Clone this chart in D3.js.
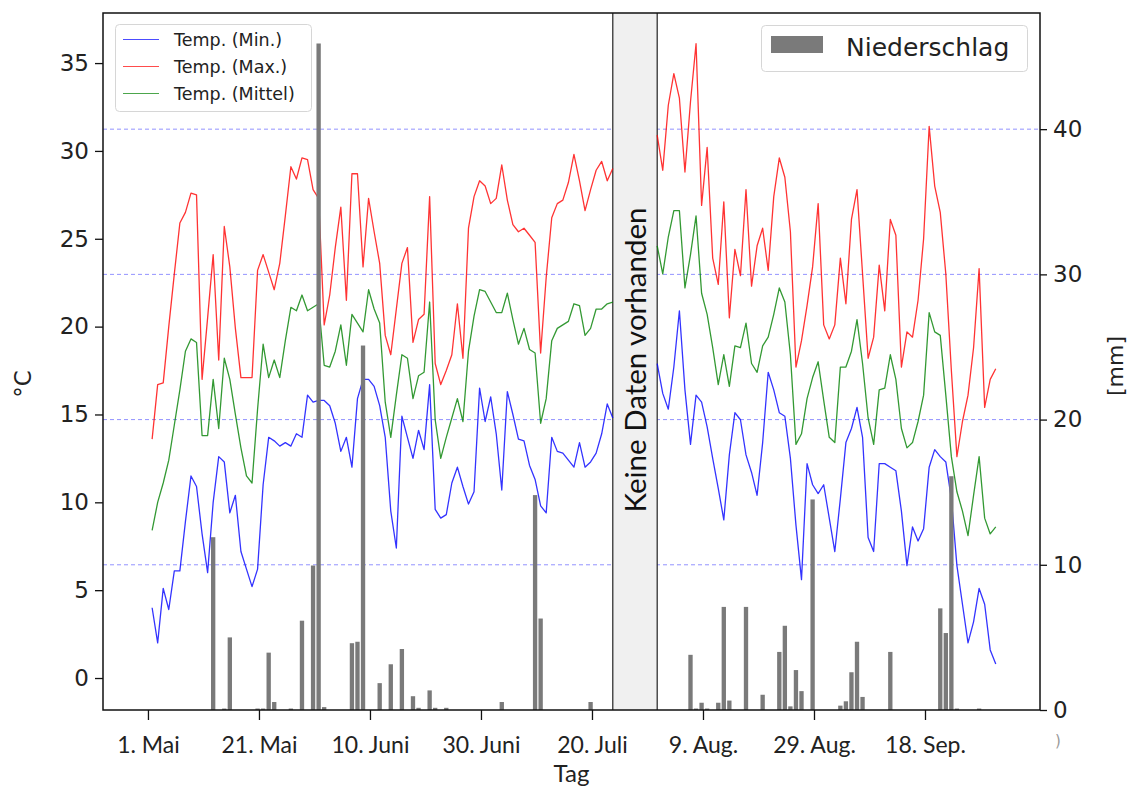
<!DOCTYPE html>
<html>
<head>
<meta charset="utf-8">
<script src="https://cdn.jsdelivr.net/npm/d3@7"></script>
<style>
body { margin: 0; background: #fff; }
svg { display: block; }
</style>
</head>
<body>
<svg id="chart" width="1131" height="789"></svg>
<script>
// Tageswerte ab 1. Mai (Index 0), 24.7.-30.7. ohne Daten (null)
var tMax = [13.6,16.7,16.8,20.0,23.0,25.9,26.5,27.6,27.5,17.0,
  20.5,24.1,18.1,25.7,23.4,19.9,17.1,17.1,17.1,23.2,
  24.1,23.1,22.1,23.6,26.3,29.1,28.4,29.6,29.5,27.8,
  27.3,20.1,21.8,24.5,26.8,21.5,28.7,28.7,23.4,27.3,
  25.4,23.6,19.5,18.4,21.0,23.6,24.5,19.1,20.4,20.7,
  27.4,17.9,16.7,17.5,18.4,21.3,18.2,25.6,27.4,28.3,
  28.0,27.0,27.3,29.2,27.2,25.8,25.4,25.6,25.2,24.8,
  18.5,22.8,26.2,27.0,27.2,28.2,29.8,28.3,26.6,27.8,
  28.9,29.4,28.3,29.0,
  null,null,null,null,null,null,null,
  30.9,28.9,32.6,34.4,33.0,28.8,32.8,36.1,26.9,30.2,
  23.9,22.4,27.1,20.5,24.4,22.9,27.8,22.3,24.6,25.6,
  23.2,27.4,29.6,28.5,25.4,17.7,19.2,21.2,23.4,27.0,
  20.1,19.3,20.1,23.9,21.3,26.1,27.8,23.0,18.2,19.4,
  23.5,20.9,26.1,25.2,17.7,19.7,19.4,21.5,25.0,31.4,
  28.0,26.5,23.0,17.5,12.6,14.6,16.1,18.8,23.3,15.4,
  17.0,17.6];

var tMittel = [8.4,10.0,11.1,12.4,14.4,16.4,18.6,19.3,19.1,13.8,
  13.8,17.0,14.2,18.2,17.0,15.0,13.1,11.5,11.1,15.3,
  19.0,17.1,18.1,17.1,19.2,21.1,20.9,21.8,20.9,21.1,
  21.3,17.8,17.7,18.6,20.1,17.8,20.7,20.2,19.7,22.1,
  21.0,20.2,15.7,13.7,16.1,18.4,18.2,15.9,17.2,17.4,
  21.4,14.7,12.5,13.7,14.8,15.9,14.6,18.6,20.6,22.1,
  22.0,21.4,20.8,20.8,21.9,20.4,19.0,19.9,18.7,18.5,
  14.5,15.9,19.2,19.9,20.1,20.3,21.3,21.2,19.5,19.9,
  21.0,21.0,21.3,21.4,
  null,null,null,null,null,null,null,
  24.6,23.0,25.1,26.6,26.6,22.2,24.1,26.3,21.9,20.7,
  18.8,16.7,18.4,16.6,18.9,18.8,20.2,17.9,17.4,18.9,
  19.4,20.7,22.2,21.4,18.4,13.3,13.9,15.9,17.1,18.0,
  15.8,13.7,13.4,17.7,17.7,18.6,20.4,17.9,14.8,13.3,
  16.4,16.5,18.4,17.0,14.2,13.1,13.4,14.6,16.1,20.8,
  19.7,19.5,16.1,12.6,10.6,9.5,8.1,10.4,12.6,9.1,
  8.2,8.6];

var tMin = [4.0,2.0,5.1,3.9,6.1,6.1,8.9,11.5,10.9,8.2,
  6.0,10.0,12.6,12.3,9.4,10.4,7.2,6.2,5.2,6.2,
  11.0,13.7,13.5,13.2,13.4,13.2,13.9,13.7,16.1,15.7,
  15.8,15.8,15.5,14.5,12.9,13.7,12.0,15.9,17.0,17.0,
  16.6,15.5,13.7,9.5,7.4,14.9,13.7,12.5,14.1,13.0,
  16.7,9.6,9.1,9.3,11.1,12.0,10.9,9.9,10.6,16.5,
  14.6,16.0,13.9,10.7,16.3,15.0,13.6,13.5,12.1,11.3,
  9.8,9.4,13.7,12.9,12.8,12.4,12.0,13.4,12.0,12.3,
  12.8,13.9,15.6,14.8,
  null,null,null,null,null,null,null,
  17.9,16.2,15.3,17.7,20.9,16.4,13.3,16.1,15.7,14.3,
  12.5,10.8,9.0,12.7,15.1,14.7,12.7,11.7,10.4,13.4,
  17.4,16.4,15.1,14.9,12.5,8.7,5.6,12.2,11.0,10.5,
  11.0,9.1,7.2,10.2,13.4,14.2,15.4,13.7,8.0,7.2,
  12.2,12.2,12.0,11.8,9.5,6.4,8.6,7.8,8.5,12.0,
  13.0,12.6,12.3,10.2,6.4,4.2,2.0,3.2,5.1,4.2,
  1.6,0.8];

// Niederschlag: Tag-Index und Menge in mm
var regenTag = [11,13,14,19,20,21,22,25,27,29,30,31,36,37,38,41,43,45,47,48,50,51,53,63,69,70,79,
  97,98,99,100,102,103,104,107,110,113,114,115,116,117,119,124,125,126,127,128,133,142,143,144,145,149];
var regenMm = [11.9,0.1,5.0,0.1,0.1,3.95,0.55,0.1,6.15,9.95,45.9,0.2,4.6,4.7,25.1,1.85,3.15,4.2,0.95,0.15,1.35,0.15,0.15,0.55,14.8,6.3,0.55,
  3.8,0.1,0.5,0.1,0.5,7.1,0.65,7.1,1.05,4.0,5.8,0.25,2.75,1.3,14.5,0.3,0.6,2.6,4.7,0.9,4.0,7.0,5.3,16.1,0.1,0.1];

var tickTage = [0, 20, 40, 60, 80, 100, 120, 140];
var tickNamen = ["1. Mai", "21. Mai", "10. Juni", "30. Juni", "20. Juli", "9. Aug.", "29. Aug.", "18. Sep."];
var tempTicks = [0, 5, 10, 15, 20, 25, 30, 35];
var regenTicks = [0, 10, 20, 30, 40];
var luecke = [83, 91]; // letzter Tag vor / erster Tag nach der Lücke

var pL = 103, pR = 1040, pT = 13, pB = 710;
var messZeit = 0.75; // Messpunkt innerhalb des Tages

var svg = d3.select("#chart");
var x = d3.scaleLinear().domain([-8.1, 160.72]).range([pL, pR]);
var yT = d3.scaleLinear().domain([-1.82, 37.85]).range([pB, pT]);
var yP = d3.scaleLinear().domain([0, 48]).range([pB, pT]);

var mpl = "DejaVu Sans, sans-serif";
var calib = "Lato, sans-serif";

// Gitterlinien (rechte Achse)
svg.append("g").selectAll("line")
  .data(regenTicks.filter(function(d) { return d > 0; }))
  .enter().append("line")
  .attr("x1", pL).attr("x2", pR)
  .attr("y1", function(d) { return yP(d); })
  .attr("y2", function(d) { return yP(d); })
  .attr("stroke", "#6f6fff").attr("stroke-opacity", 0.75)
  .attr("stroke-width", 1).attr("stroke-dasharray", "4,3");

// Lücke
var gx0 = x(luecke[0] + messZeit), gx1 = x(luecke[1] + messZeit);
svg.append("rect").attr("x", gx0).attr("y", pT)
  .attr("width", gx1 - gx0).attr("height", pB - pT)
  .attr("fill", "#f0f0f0");
[gx0, gx1].forEach(function(gx) {
  svg.append("line").attr("x1", gx).attr("x2", gx).attr("y1", pT).attr("y2", pB)
    .attr("stroke", "#222").attr("stroke-width", 1.2);
});
svg.append("text")
  .attr("transform", "translate(" + ((gx0 + gx1) / 2 + 11) + ",360) rotate(-90)")
  .attr("text-anchor", "middle")
  .style("font-family", calib).style("font-size", "29.5px").attr("fill", "#111")
  .text("Keine Daten vorhanden");

// Temperaturlinien
var serien = [
  { werte: tMin, farbe: "#0000ff" },
  { werte: tMax, farbe: "#ff0000" },
  { werte: tMittel, farbe: "#008000" }
];
var linie = d3.line()
  .defined(function(d) { return d != null; })
  .x(function(d, i) { return x(i + messZeit); })
  .y(function(d) { return yT(d); });
serien.forEach(function(s) {
  svg.append("path").datum(s.werte)
    .attr("d", linie)
    .attr("fill", "none")
    .attr("stroke", s.farbe)
    .attr("stroke-width", 1.3)
    .attr("stroke-opacity", 0.8)
    .attr("stroke-linejoin", "round");
});

// Niederschlag
var breite = x(0.78) - x(0);
svg.append("g").selectAll("rect")
  .data(regenTag)
  .enter().append("rect")
  .attr("x", function(d) { return x(d + messZeit) - breite / 2; })
  .attr("y", function(d, i) { return yP(regenMm[i]); })
  .attr("width", breite)
  .attr("height", function(d, i) { return yP(0) - yP(regenMm[i]); })
  .attr("fill", "#7a7a7a");

// Rahmen
svg.append("rect").attr("x", pL).attr("y", pT)
  .attr("width", pR - pL).attr("height", pB - pT)
  .attr("fill", "none").attr("stroke", "#111").attr("stroke-width", 1.5);

// Achsen
var axL = svg.append("g").attr("transform", "translate(" + pL + ",0)")
  .call(d3.axisLeft(yT).tickValues(tempTicks).tickSize(8).tickPadding(6));
axL.selectAll("text").style("font-family", mpl).style("font-size", "23px").attr("fill", "#222");

var axR = svg.append("g").attr("transform", "translate(" + pR + ",0)")
  .call(d3.axisRight(yP).tickValues(regenTicks).tickSize(7).tickPadding(6));
axR.selectAll("text").style("font-family", mpl).style("font-size", "23px").attr("fill", "#222");

var axB = svg.append("g").attr("transform", "translate(0," + pB + ")")
  .call(d3.axisBottom(x).tickValues(tickTage).tickSize(10)
    .tickFormat(function(d, i) { return tickNamen[i]; }));
axB.selectAll("text").attr("y", 43).attr("dy", 0)
  .style("font-family", calib).style("font-size", "23px").attr("fill", "#222");

[axL, axR, axB].forEach(function(a) {
  a.select(".domain").remove();
  a.selectAll(".tick line").attr("stroke", "#111").attr("stroke-width", 1.3);
});

// Achsentitel
svg.append("text").attr("x", (pL + pR) / 2).attr("y", 782)
  .attr("text-anchor", "middle")
  .style("font-family", calib).style("font-size", "24px").attr("fill", "#222")
  .text("Tag");
svg.append("text").attr("transform", "translate(31,384) rotate(-90)")
  .attr("text-anchor", "middle")
  .style("font-family", mpl).style("font-size", "23px").attr("fill", "#222")
  .text("°C");
svg.append("text").attr("transform", "translate(1123,366) rotate(-90)")
  .attr("text-anchor", "middle")
  .style("font-family", mpl).style("font-size", "22px").attr("fill", "#222")
  .text("[mm]");
svg.append("text").attr("x", 1055).attr("y", 746)
  .style("font-family", mpl).style("font-size", "15px").attr("fill", "#999")
  .text(")");

// Legende Temperatur
var legL = svg.append("g");
legL.append("rect").attr("x", 115.5).attr("y", 24.5).attr("width", 196).attr("height", 87)
  .attr("rx", 4).attr("fill", "#fff").attr("fill-opacity", 0.85)
  .attr("stroke", "#d6d6d6");
var legNamen = ["Temp. (Min.)", "Temp. (Max.)", "Temp. (Mittel)"];
serien.forEach(function(s, i) {
  var ly = 39.5 + i * 27;
  legL.append("line").attr("x1", 123).attr("x2", 159).attr("y1", ly).attr("y2", ly)
    .attr("stroke", s.farbe).attr("stroke-width", 1.2).attr("stroke-opacity", 0.7);
  legL.append("text").attr("x", 174).attr("y", ly + 6)
    .style("font-family", mpl).style("font-size", "17.5px").attr("fill", "#222")
    .text(legNamen[i]);
});

// Legende Niederschlag
var legR = svg.append("g");
legR.append("rect").attr("x", 761.5).attr("y", 25.5).attr("width", 266).attr("height", 46)
  .attr("rx", 4).attr("fill", "#fff").attr("fill-opacity", 0.85)
  .attr("stroke", "#d6d6d6");
legR.append("rect").attr("x", 771).attr("y", 36).attr("width", 52).attr("height", 17)
  .attr("fill", "#7a7a7a");
legR.append("text").attr("x", 846).attr("y", 55.5)
  .style("font-family", mpl).style("font-size", "25px").attr("fill", "#222")
  .text("Niederschlag");
</script>
</body>
</html>
